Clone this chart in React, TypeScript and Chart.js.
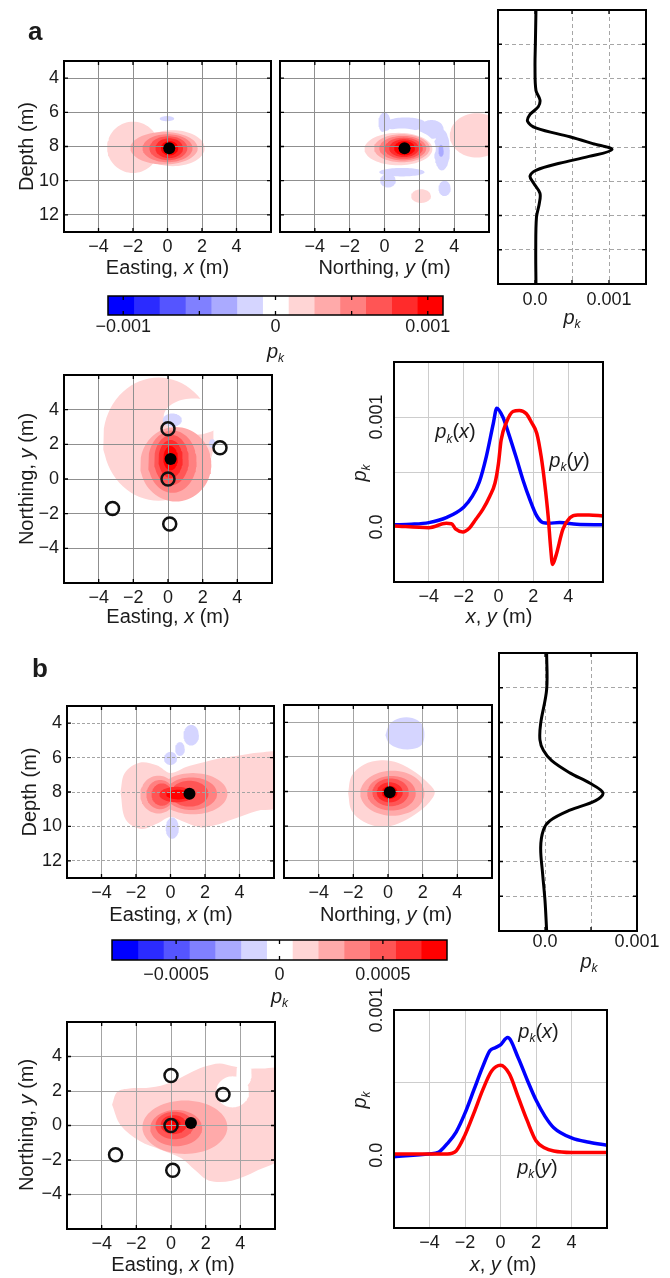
import React, { useEffect, useRef } from 'react';
import { Chart, registerables } from 'chart.js';

Chart.register(...registerables);

const FF = '"Liberation Sans", Arial, Helvetica, sans-serif';
const TXT = '#1b1b1b';

// ---------- discrete colour classes: blue ... white ... red (index = level + 6) ----------
const levelColors = ['#0000ff', '#2b2bff', '#5555ff', '#8080ff', '#aaaaff', '#d5d5ff', '#ffffff', '#ffd5d5', '#ffaaaa', '#ff8080', '#ff5555', '#ff2b2b', '#ff0000'];

// ---------- colour bars ----------
const cbEdgesA = [-0.0011, -0.000931, -0.000762, -0.000592, -0.000423, -0.000254, -0.0000846, 0.0000846, 0.000254, 0.000423, 0.000592, 0.000762, 0.000931, 0.0011];
const cbTicksA = [-0.001, -0.0005, 0, 0.0005, 0.001];
const cbLabelsA = ['−0.001', '', '0', '', '0.001'];
const cbEdgesB = [-0.00081, -0.000685, -0.000561, -0.000436, -0.000312, -0.000187, -0.0000623, 0.0000623, 0.000187, 0.000312, 0.000436, 0.000561, 0.000685, 0.00081];
const cbTicksB = [-0.0005, 0, 0.0005];
const cbLabelsB = ['−0.0005', '0', '0.0005'];

// ---------- axes ----------
const horizTicks = [-4, -2, 0, 2, 4];
const horizLabels = ['−4', '−2', '0', '2', '4'];
const depthTicks = [4, 6, 8, 10, 12];
const depthLabels = ['4', '6', '8', '10', '12'];
const northTicks = [-4, -2, 0, 2, 4];
const northLabels = ['−4', '−2', '0', '2', '4'];
const profDepthTicks = [2, 4, 6, 8, 10, 12, 14];
const pkTicks = [0, 0.0005, 0.001];
const pkLabels = ['0.0', '', '0.001'];
const lineYTicks = [0, 0.0005, 0.001];
const lineYLabelVals = [0, 0.001];
const lineYLabels = ['0.0', '0.001'];

// ---------- wells (open circles) and sources (black dots) ----------
const wellX = [0, 3, 0, -3.2, 0.1];
const wellY = [2.9, 1.8, 0, -1.7, -2.6];
const srcSecAE = [0.1, 8.1];
const srcSecAN = [1.15, 8.1];
const srcPlanA = [0.15, 1.15];
const srcSecBE = [1.1, 8.1];
const srcSecBN = [0.1, 8.05];
const srcPlanB = [1.15, 0.15];

// ---------- contour classes: level + ellipse [cx, cy, rx, ry] or polygon, in paint order ----------
type Shape = { lv: number; e?: number[]; p?: number[][] };

const secAEast: Shape[] = [
  { lv: 1, e: [-2.0, 8.05, 1.5, 1.5] },
  { lv: 1, e: [0.3, 8.1, 1.85, 1.05] },
  { lv: -1, e: [-0.03, 6.37, 0.42, 0.15] },
  { lv: 2, e: [-0.2, 8.1, 1.95, 0.95] },
  { lv: 3, e: [0.0, 8.1, 1.45, 0.82] },
  { lv: 4, e: [0.05, 8.1, 1.1, 0.7] },
  { lv: 5, e: [0.1, 8.1, 0.8, 0.58] },
  { lv: 6, e: [0.12, 8.1, 0.5, 0.42] },
];

const secANorth: Shape[] = [
  { lv: 1, e: [5.3, 7.35, 1.55, 1.3] },
  { lv: 1, e: [2.1, 10.9, 0.57, 0.4] },
  { lv: -1, e: [0.0, 6.6, 0.35, 0.6] },
  { lv: -1, e: [1.2, 6.7, 1.2, 0.4] },
  { lv: -1, e: [2.7, 7.0, 0.7, 0.55] },
  { lv: -1, e: [3.3, 8.2, 0.45, 1.2] },
  { lv: -1, e: [1.0, 9.5, 1.3, 0.25] },
  { lv: -1, e: [0.2, 10.0, 0.45, 0.4] },
  { lv: -1, e: [3.45, 10.45, 0.35, 0.45] },
  { lv: -2, e: [3.25, 8.25, 0.15, 0.35] },
  { lv: 0, e: [1.0, 8.1, 1.95, 1.15] },
  { lv: 1, e: [0.8, 8.15, 1.95, 0.95] },
  { lv: 2, e: [1.0, 8.1, 1.6, 0.82] },
  { lv: 3, e: [1.05, 8.1, 1.35, 0.72] },
  { lv: 4, e: [1.1, 8.1, 1.1, 0.62] },
  { lv: 5, e: [1.12, 8.1, 0.85, 0.52] },
  { lv: 6, e: [1.15, 8.1, 0.6, 0.42] },
];

const planA: Shape[] = [
  { lv: 1, e: [-0.55, 2.3, 3.2, 3.55] },
  { lv: 0, e: [1.5, 3.6, 1.75, 1.05] },
  { lv: 2, e: [0.45, 0.85, 2.05, 2.15] },
  { lv: 3, e: [0.25, 1.0, 1.4, 1.8] },
  { lv: 4, e: [0.2, 1.1, 1.0, 1.45] },
  { lv: 5, e: [0.15, 1.15, 0.7, 1.1] },
  { lv: 6, e: [0.15, 1.2, 0.42, 0.7] },
  { lv: -1, e: [0.25, 3.4, 0.55, 0.38] },
  { lv: -1, e: [2.55, 2.05, 0.2, 0.25] },
];

const secBEastOuter = [[-2.9, 8.0], [-2.65, 6.9], [-1.8, 6.3], [-0.8, 6.45], [0.0, 6.9], [0.9, 6.55], [1.8, 6.3], [2.8, 6.05], [3.8, 5.9], [5.2, 5.7], [6.3, 5.8], [6.3, 8.8], [5.0, 9.1], [3.7, 9.55], [2.5, 9.95], [1.7, 10.05], [0.7, 9.7], [0.0, 9.45], [-0.8, 9.85], [-1.7, 10.15], [-2.6, 9.6], [-2.9, 8.0]];
const secBEast: Shape[] = [
  { lv: 1, p: secBEastOuter },
  { lv: -1, e: [0.0, 6.05, 0.38, 0.38] },
  { lv: -1, e: [0.55, 5.5, 0.28, 0.4] },
  { lv: -1, e: [1.2, 4.7, 0.45, 0.6] },
  { lv: -1, e: [0.1, 10.1, 0.38, 0.62] },
  { lv: 2, e: [-0.7, 8.15, 1.05, 1.1] },
  { lv: 2, e: [1.3, 8.1, 2.0, 1.2] },
  { lv: 3, e: [-0.6, 8.15, 0.8, 0.85] },
  { lv: 3, e: [1.2, 8.1, 1.5, 0.95] },
  { lv: 4, e: [-0.5, 8.15, 0.6, 0.65] },
  { lv: 4, e: [1.1, 8.1, 1.1, 0.75] },
  { lv: 5, e: [0.35, 8.15, 1.0, 0.45] },
  { lv: 6, e: [0.45, 8.15, 0.7, 0.28] },
];

const secBNorthOuter = [[-2.3, 8.1], [-2.1, 7.1], [-1.4, 6.45], [-0.4, 6.2], [0.6, 6.35], [1.6, 6.9], [2.4, 7.6], [2.7, 8.05], [2.4, 8.6], [1.6, 9.3], [0.6, 9.85], [-0.4, 10.05], [-1.4, 9.75], [-2.1, 9.1], [-2.3, 8.1]];
const secBNorthBlue = [[-0.15, 4.75], [0.1, 4.1], [0.7, 3.75], [1.4, 3.75], [1.95, 4.1], [2.1, 4.7], [1.95, 5.3], [1.4, 5.55], [0.6, 5.5], [0.05, 5.2], [-0.15, 4.75]];
const secBNorth: Shape[] = [
  { lv: 1, p: secBNorthOuter },
  { lv: -1, p: secBNorthBlue },
  { lv: 2, e: [0.25, 8.1, 1.85, 1.3] },
  { lv: 3, e: [0.2, 8.1, 1.4, 1.0] },
  { lv: 4, e: [0.15, 8.05, 1.05, 0.8] },
  { lv: 5, e: [0.1, 8.05, 0.75, 0.58] },
  { lv: 6, e: [0.1, 8.05, 0.45, 0.38] },
];

const planBOuter = [[-3.4, 1.2], [-3.1, 1.95], [-2.4, 2.15], [-1.2, 2.2], [0.0, 2.5], [1.0, 3.0], [1.9, 3.4], [2.8, 3.6], [3.5, 3.45], [4.4, 3.3], [5.2, 3.3], [6.3, 3.2], [6.3, -1.8], [5.0, -2.6], [3.5, -3.2], [2.2, -3.2], [1.4, -2.6], [0.6, -1.9], [-0.6, -1.4], [-1.8, -0.9], [-2.9, 0.0], [-3.4, 1.2]];
const planB: Shape[] = [
  { lv: 1, p: planBOuter },
  { lv: 0, e: [3.55, 1.95, 0.95, 0.9] },
  { lv: 0, e: [4.2, 3.0, 0.45, 0.75] },
  { lv: 2, e: [0.8, -0.1, 2.45, 1.55] },
  { lv: 3, e: [0.3, -0.15, 1.5, 1.05] },
  { lv: 4, e: [0.2, 0.0, 1.1, 0.8] },
  { lv: 5, e: [0.15, 0.05, 0.75, 0.55] },
  { lv: 6, e: [0.1, 0.08, 0.45, 0.35] },
];

// ---------- vertical profiles p_k(depth) ----------
const profDepthA = [0, 2, 3.3, 4.7, 5.25, 5.65, 6.1, 6.5, 6.9, 7.4, 7.8, 8.15, 8.55, 8.95, 9.35, 9.7, 10.1, 10.7, 11.3, 12.1, 14, 16];
const profPkA = [0.000013, 0.000005, 0, 0.000013, 0.000067, 0.000044, -0.000067, -0.0001, 0.00002, 0.00047, 0.00078, 0.00104, 0.00073, 0.00033, 0.00002, -0.000067, -0.00002, 0.000067, 0.000058, 0.00002, 0.00001, 0.000013];
const profDepthB = [0, 2.1, 4.05, 5.0, 5.6, 6.2, 6.9, 7.5, 8.05, 8.5, 9.05, 9.65, 10.2, 11.2, 12.7, 14.25, 16];
const profPkB = [0.000018, 0.000018, -0.000047, -0.000055, -0.000018, 0.000073, 0.00027, 0.00049, 0.00063, 0.00055, 0.00027, 0.000055, -0.000018, -0.000047, -0.000026, 0, 0.000018];

// ---------- horizontal profiles ----------
const pkxAx = [-6, -5, -4, -3, -2, -1.5, -1.1, -0.7, -0.3, -0.1, 0.25, 0.6, 1.0, 1.4, 1.8, 2.2, 2.55, 2.9, 3.5, 4.5, 6];
const pkxAy = [0.00002, 0.000025, 0.00004, 0.000085, 0.00018, 0.00028, 0.00041, 0.00064, 0.00094, 0.00108, 0.001, 0.00084, 0.00064, 0.00043, 0.00025, 0.0001, 0.00004, 0.000035, 0.00004, 0.000025, 0.00002];
const pkyAx = [-6, -4, -3, -2.7, -2.45, -2.05, -1.65, -1.3, -0.9, -0.5, -0.2, 0, 0.15, 0.45, 0.83, 1.2, 1.6, 1.9, 2.2, 2.45, 2.65, 2.85, 3.0, 3.1, 3.3, 3.7, 4.1, 4.55, 5.2, 6];
const pkyAy = [0.00001, -0.000006, 0.000033, 0.00003, -0.00002, -0.000045, -0.000006, 0.00007, 0.00016, 0.00028, 0.0004, 0.00058, 0.00079, 0.00095, 0.00105, 0.00106, 0.00103, 0.00095, 0.00085, 0.00064, 0.0004, 0.0001, -0.0002, -0.00034, -0.00026, -0.00002, 0.000084, 0.00011, 0.00011, 0.0001];
const pkxBx = [-6, -4, -3.5, -3, -2.5, -2, -1.5, -1, -0.6, -0.3, 0, 0.4, 1, 1.5, 2, 2.5, 3, 4, 5, 6];
const pkxBy = [-0.00001, 0.00001, 0.00002, 0.00008, 0.00016, 0.00029, 0.00045, 0.00061, 0.00072, 0.00074, 0.00076, 0.00081, 0.00067, 0.00052, 0.00038, 0.00027, 0.00019, 0.00012, 0.00009, 0.00007];
const pkyBx = [-6, -4, -3, -2.5, -2, -1.5, -1, -0.5, 0, 0.5, 1, 1.5, 2, 2.5, 3, 4, 6];
const pkyBy = [0.00001, 0.00001, 0.00001, 0.00003, 0.00014, 0.00029, 0.00045, 0.00058, 0.00062, 0.00056, 0.0004, 0.00024, 0.0001, 0.00005, 0.00003, 0.00002, 0.00002];

// ---------- text helpers ----------
type Part = { t: string; i?: boolean; s?: boolean };
const PK: Part[] = [{ t: 'p', i: true }, { t: 'k', i: true, s: true }];
const EASTING: Part[] = [{ t: 'Easting, ' }, { t: 'x', i: true }, { t: ' (m)' }];
const NORTHING: Part[] = [{ t: 'Northing, ' }, { t: 'y', i: true }, { t: ' (m)' }];
const DEPTH: Part[] = [{ t: 'Depth (m)' }];
const XY: Part[] = [{ t: 'x', i: true }, { t: ', ' }, { t: 'y', i: true }, { t: ' (m)' }];
const PKX: Part[] = [...PK, { t: '(' }, { t: 'x', i: true }, { t: ')' }];
const PKY: Part[] = [...PK, { t: '(' }, { t: 'y', i: true }, { t: ')' }];

function rich(ctx: any, parts: Part[], x: number, y: number, size: number, o: any = {}) {
  ctx.save();
  ctx.translate(x, y);
  if (o.rot) ctx.rotate(o.rot);
  ctx.fillStyle = TXT;
  ctx.textBaseline = o.base || 'middle';
  ctx.textAlign = 'left';
  const font = (p: Part) => `${p.i ? 'italic ' : ''}${o.bold ? 'bold ' : ''}${p.s ? Math.round(size * 0.62) : size}px ${FF}`;
  const ws = parts.map((p) => { ctx.font = font(p); return ctx.measureText(p.t).width; });
  const total = ws.reduce((a, b) => a + b, 0);
  let cx = o.align === 'left' ? 0 : o.align === 'right' ? -total : -total / 2;
  parts.forEach((p, k) => { ctx.font = font(p); ctx.fillText(p.t, cx, p.s ? size * 0.32 : 0); cx += ws[k]; });
  ctx.restore();
}

const zip = (xs: number[], ys: number[]) => xs.map((x, i) => ({ x, y: ys[i] }));
const ell = (cx: number, cy: number, rx: number, ry: number) => {
  const pts = [];
  for (let k = 0; k <= 72; k++) {
    const t = (k / 72) * Math.PI * 2;
    pts.push({ x: cx + rx * Math.cos(t), y: cy + ry * Math.sin(t) });
  }
  return pts;
};

// ---------- chart helpers ----------
type M = { l: number; t: number; r: number; b: number };

function baseOpts(m: M) {
  return {
    responsive: false,
    maintainAspectRatio: false,
    animation: false,
    events: [],
    layout: { padding: { left: 0, top: m.t, right: m.r, bottom: 0 } },
    plugins: { legend: { display: false }, tooltip: { enabled: false }, title: { display: false }, filler: { drawTime: 'beforeDraw', propagate: false } },
  };
}

function axis(o: any) {
  return {
    type: 'linear',
    bounds: 'data',
    min: o.min,
    max: o.max,
    reverse: !!o.reverse,
    afterBuildTicks: (s: any) => { s.ticks = o.ticks.map((v: number) => ({ value: v })); },
    afterFit: (s: any) => { if (o.horiz) s.height = o.fit; else s.width = o.fit; },
    grid: { display: !!o.grid, color: o.grid || 'rgba(0,0,0,0)', lineWidth: 1, drawTicks: false },
    border: { display: false, dash: o.dash || [] },
    ticks: {
      display: !!o.labels, autoSkip: false, maxRotation: 0, minRotation: 0, padding: o.pad ?? 4, color: TXT,
      font: { family: FF, size: 18 },
      callback: (_v: any, i: number) => (o.labels ? (o.labels[i] ?? '') : ''),
    },
  };
}

function framePlugin(lw: number, tick: number) {
  return {
    id: 'frame',
    afterDraw(chart: any) {
      const { ctx, chartArea: a, scales } = chart;
      ctx.save();
      ctx.strokeStyle = '#000';
      if (tick > 0) {
        ctx.lineWidth = 1.3;
        ctx.beginPath();
        const sx = scales.x, sy = scales.y;
        if (sx && sx.type === 'linear') for (const t of sx.ticks) {
          const p = sx.getPixelForValue(t.value);
          if (p < a.left + 2 || p > a.right - 2) continue;
          ctx.moveTo(p, a.top); ctx.lineTo(p, a.top + tick); ctx.moveTo(p, a.bottom); ctx.lineTo(p, a.bottom - tick);
        }
        if (sy && sy.type === 'linear') for (const t of sy.ticks) {
          const p = sy.getPixelForValue(t.value);
          if (p < a.top + 2 || p > a.bottom - 2) continue;
          ctx.moveTo(a.left, p); ctx.lineTo(a.left + tick, p); ctx.moveTo(a.right, p); ctx.lineTo(a.right - tick, p);
        }
        ctx.stroke();
      }
      ctx.lineWidth = lw;
      ctx.strokeRect(a.left, a.top, a.right - a.left, a.bottom - a.top);
      ctx.restore();
    },
  };
}

function textPlugin(fn: (chart: any) => void) {
  return { id: 'texts', afterDraw(chart: any) { fn(chart); } };
}

function mapDatasets(shapes: Shape[], src: number[], wells: boolean) {
  const fills = shapes.map((s) => ({
    type: 'line',
    data: s.e ? ell(s.e[0], s.e[1], s.e[2], s.e[3]) : (s.p as number[][]).map((q) => ({ x: q[0], y: q[1] })),
    backgroundColor: levelColors[s.lv + 6],
    borderColor: 'rgba(0,0,0,0)',
    borderWidth: 1,
    pointRadius: 0,
    fill: 'shape',
    tension: s.p ? 0.35 : 0,
  })).reverse();
  const marks: any[] = [
    { type: 'line', data: [{ x: src[0], y: src[1] }], showLine: false, pointRadius: 6, pointBorderWidth: 0, pointBackgroundColor: '#000', pointBorderColor: '#000', fill: false },
  ];
  if (wells) marks.push({ type: 'line', data: zip(wellX, wellY), showLine: false, pointRadius: 6.5, pointBorderWidth: 2.5, pointBorderColor: '#111', pointBackgroundColor: 'rgba(0,0,0,0)', fill: false });
  return [...marks, ...fills];
}

function mapChart(o: any) {
  return (ox: number, oy: number) => ({
    type: 'line',
    data: { datasets: mapDatasets(o.shapes, o.src, !!o.wells) },
    options: {
      ...baseOpts(o.m),
      scales: {
        x: axis({ min: -6, max: 6, ticks: horizTicks, labels: horizLabels, fit: o.m.b, horiz: true, grid: o.grid, pad: 4 }),
        y: axis({ min: o.yMin, max: o.yMax, reverse: o.reverse, ticks: o.yTicks, labels: o.yLabels, fit: o.m.l, horiz: false, grid: o.grid, dash: o.ydash, pad: 5 }),
      },
    },
    plugins: [framePlugin(2, 4), textPlugin((chart) => o.texts(chart.ctx, ox, oy))],
  });
}

function profileChart(o: any) {
  return (ox: number, oy: number) => ({
    type: 'line',
    data: { datasets: [{ data: zip(o.pk, o.depth), borderColor: '#000', borderWidth: 3, pointRadius: 0, fill: false, tension: 0.35 }] },
    options: {
      ...baseOpts(o.m),
      scales: {
        x: axis({ min: o.xMin, max: o.xMax, ticks: pkTicks, labels: pkLabels, fit: o.m.b, horiz: true, grid: '#a6a6a6', dash: [4, 3], pad: o.pad }),
        y: axis({ min: 0, max: 16, reverse: true, ticks: profDepthTicks, fit: o.m.l, horiz: false, grid: '#a6a6a6', dash: [4, 3] }),
      },
    },
    plugins: [framePlugin(2, 4), textPlugin((chart) => rich(chart.ctx, PK, o.pkAt[0] - ox, o.pkAt[1] - oy, 20))],
  });
}

function cbChart(o: any) {
  const edges: number[] = o.edges;
  return (ox: number, oy: number) => ({
    type: 'bar',
    data: {
      labels: [''],
      datasets: edges.slice(0, -1).map((e, i) => ({ data: [[e, edges[i + 1]]], backgroundColor: levelColors[i], borderWidth: 0, barPercentage: 1, categoryPercentage: 1, grouped: false })),
    },
    options: {
      ...baseOpts(o.m),
      indexAxis: 'y',
      scales: {
        x: axis({ min: edges[0], max: edges[edges.length - 1], ticks: o.ticks, labels: o.labels, fit: o.m.b, horiz: true, pad: o.pad }),
        y: { type: 'category', display: true, grid: { display: false, drawTicks: false }, border: { display: false }, ticks: { display: false }, afterFit: (s: any) => { s.width = o.m.l; } },
      },
    },
    plugins: [framePlugin(1.5, 4), textPlugin((chart) => rich(chart.ctx, PK, o.pkAt[0] - ox, o.pkAt[1] - oy, 20))],
  });
}

function lineChart(o: any) {
  return (ox: number, oy: number) => ({
    type: 'line',
    data: {
      datasets: [
        { data: o.red, borderColor: '#ff0000', borderWidth: 3.5, pointRadius: 0, fill: false, cubicInterpolationMode: 'monotone' },
        { data: o.blue, borderColor: '#0000ff', borderWidth: 3.5, pointRadius: 0, fill: false, cubicInterpolationMode: 'monotone' },
      ],
    },
    options: {
      ...baseOpts(o.m),
      scales: {
        x: axis({ min: -6, max: 6, ticks: horizTicks, labels: horizLabels, fit: o.m.b, horiz: true, grid: '#cdcdcd', pad: 4 }),
        y: axis({ min: -0.0005, max: o.yMax, ticks: lineYTicks, fit: o.m.l, horiz: false, grid: '#cdcdcd' }),
      },
    },
    plugins: [
      framePlugin(2, 0),
      textPlugin((chart) => {
        const { ctx, chartArea: a, scales } = chart;
        lineYLabelVals.forEach((v, i) => rich(ctx, [{ t: lineYLabels[i] }], a.left - 17, scales.y.getPixelForValue(v), 18, { rot: -Math.PI / 2 }));
        rich(ctx, PK, o.pkAt[0] - ox, o.pkAt[1] - oy, 20, { rot: -Math.PI / 2 });
        rich(ctx, XY, o.xyAt[0] - ox, o.xyAt[1] - oy, 20);
        rich(ctx, PKX, scales.x.getPixelForValue(o.lx[0]), scales.y.getPixelForValue(o.lx[1]), 20);
        rich(ctx, PKY, scales.x.getPixelForValue(o.ly[0]), scales.y.getPixelForValue(o.ly[1]), 20);
      }),
    ],
  });
}

// ---------- canvas holder ----------
type Box = { l: number; t: number; r: number; b: number };

function Panel({ box, m, make }: { box: Box; m: M; make: (ox: number, oy: number) => any }) {
  const ref = useRef<HTMLCanvasElement | null>(null);
  const ox = box.l - m.l;
  const oy = box.t - m.t;
  const w = box.r - box.l + m.l + m.r;
  const h = box.b - box.t + m.t + m.b;
  useEffect(() => {
    const chart = new Chart(ref.current as HTMLCanvasElement, make(ox, oy));
    return () => chart.destroy();
  }, []);
  return <canvas ref={ref} width={w} height={h} style={{ position: 'absolute', left: ox, top: oy, width: w, height: h }} />;
}

const GRID_A = '#8f8f8f';
const GRID_B = '#a4a4a4';

const panels: { box: Box; m: M; make: any }[] = [
  // ---------------- panel a ----------------
  {
    box: { l: 64, t: 61, r: 271, b: 232 }, m: { l: 70, t: 45, r: 12, b: 50 },
    make: mapChart({
      shapes: secAEast, src: srcSecAE, grid: GRID_A, yMin: 3, yMax: 13, reverse: true, yTicks: depthTicks, yLabels: depthLabels, m: { l: 70, t: 45, r: 12, b: 50 },
      texts: (ctx: any, ox: number, oy: number) => {
        rich(ctx, [{ t: 'a' }], 28 - ox, 40 - oy, 26, { bold: true, align: 'left', base: 'alphabetic' });
        rich(ctx, EASTING, 167.5 - ox, 268 - oy, 20);
        rich(ctx, DEPTH, 27 - ox, 146.5 - oy, 20, { rot: -Math.PI / 2 });
      },
    }),
  },
  {
    box: { l: 280, t: 61, r: 489, b: 232 }, m: { l: 10, t: 30, r: 12, b: 50 },
    make: mapChart({
      shapes: secANorth, src: srcSecAN, grid: GRID_A, yMin: 3, yMax: 13, reverse: true, yTicks: depthTicks, m: { l: 10, t: 30, r: 12, b: 50 },
      texts: (ctx: any, ox: number, oy: number) => rich(ctx, NORTHING, 384.5 - ox, 268 - oy, 20),
    }),
  },
  {
    box: { l: 498, t: 10, r: 646, b: 284 }, m: { l: 10, t: 10, r: 30, b: 50 },
    make: profileChart({ pk: profPkA, depth: profDepthA, xMin: -0.0005, xMax: 0.0015, pad: 5, pkAt: [572, 318], m: { l: 10, t: 10, r: 30, b: 50 } }),
  },
  {
    box: { l: 108, t: 296, r: 443, b: 315 }, m: { l: 40, t: 10, r: 40, b: 50 },
    make: cbChart({ edges: cbEdgesA, ticks: cbTicksA, labels: cbLabelsA, pad: 1, pkAt: [275.5, 352], m: { l: 40, t: 10, r: 40, b: 50 } }),
  },
  {
    box: { l: 64, t: 375, r: 272, b: 583 }, m: { l: 70, t: 30, r: 12, b: 50 },
    make: mapChart({
      shapes: planA, src: srcPlanA, wells: true, grid: GRID_A, yMin: -6, yMax: 6, yTicks: northTicks, yLabels: northLabels, m: { l: 70, t: 30, r: 12, b: 50 },
      texts: (ctx: any, ox: number, oy: number) => {
        rich(ctx, EASTING, 168 - ox, 617 - oy, 20);
        rich(ctx, NORTHING, 27 - ox, 479 - oy, 20, { rot: -Math.PI / 2 });
      },
    }),
  },
  {
    box: { l: 394, t: 362, r: 603, b: 582 }, m: { l: 45, t: 30, r: 12, b: 50 },
    make: lineChart({ blue: zip(pkxAx, pkxAy), red: zip(pkyAx, pkyAy), yMax: 0.0015, pkAt: [360, 473], xyAt: [499, 617], lx: [-2.47, 0.000856], ly: [4.08, 0.000595], m: { l: 45, t: 30, r: 12, b: 50 } }),
  },
  // ---------------- panel b ----------------
  {
    box: { l: 67, t: 706, r: 274, b: 878 }, m: { l: 70, t: 55, r: 12, b: 50 },
    make: mapChart({
      shapes: secBEast, src: srcSecBE, grid: GRID_B, ydash: [3, 2], yMin: 3, yMax: 13, reverse: true, yTicks: depthTicks, yLabels: depthLabels, m: { l: 70, t: 55, r: 12, b: 50 },
      texts: (ctx: any, ox: number, oy: number) => {
        rich(ctx, [{ t: 'b' }], 32 - ox, 677 - oy, 26, { bold: true, align: 'left', base: 'alphabetic' });
        rich(ctx, EASTING, 171 - ox, 915 - oy, 20);
        rich(ctx, DEPTH, 30 - ox, 792 - oy, 20, { rot: -Math.PI / 2 });
      },
    }),
  },
  {
    box: { l: 284, t: 705, r: 492, b: 878 }, m: { l: 10, t: 30, r: 12, b: 50 },
    make: mapChart({
      shapes: secBNorth, src: srcSecBN, grid: GRID_B, yMin: 3, yMax: 13, reverse: true, yTicks: depthTicks, m: { l: 10, t: 30, r: 12, b: 50 },
      texts: (ctx: any, ox: number, oy: number) => rich(ctx, NORTHING, 386 - ox, 915 - oy, 20),
    }),
  },
  {
    box: { l: 499, t: 653, r: 637, b: 931 }, m: { l: 10, t: 10, r: 40, b: 50 },
    make: profileChart({ pk: profPkB, depth: profDepthB, xMin: -0.0005, xMax: 0.001, pad: 0, pkAt: [589, 962], m: { l: 10, t: 10, r: 40, b: 50 } }),
  },
  {
    box: { l: 112, t: 940, r: 447, b: 960 }, m: { l: 40, t: 10, r: 40, b: 50 },
    make: cbChart({ edges: cbEdgesB, ticks: cbTicksB, labels: cbLabelsB, pad: 4, pkAt: [279.5, 997], m: { l: 40, t: 10, r: 40, b: 50 } }),
  },
  {
    box: { l: 67, t: 1022, r: 275, b: 1229 }, m: { l: 70, t: 30, r: 12, b: 50 },
    make: mapChart({
      shapes: planB, src: srcPlanB, wells: true, grid: GRID_B, yMin: -6, yMax: 6, yTicks: northTicks, yLabels: northLabels, m: { l: 70, t: 30, r: 12, b: 50 },
      texts: (ctx: any, ox: number, oy: number) => {
        rich(ctx, EASTING, 173 - ox, 1265 - oy, 20);
        rich(ctx, NORTHING, 27 - ox, 1125 - oy, 20, { rot: -Math.PI / 2 });
      },
    }),
  },
  {
    box: { l: 394, t: 1010, r: 607, b: 1228 }, m: { l: 45, t: 30, r: 12, b: 50 },
    make: lineChart({ blue: zip(pkxBx, pkxBy), red: zip(pkyBx, pkyBy), yMax: 0.001, pkAt: [360, 1100], xyAt: [503, 1265], lx: [2.14, 0.000847], ly: [2.08, -0.00009], m: { l: 45, t: 30, r: 12, b: 50 } }),
  },
];

export default function App() {
  return (
    <div style={{ position: 'absolute', left: 0, top: 0, width: 670, height: 1278, overflow: 'hidden', background: '#ffffff' }}>
      {panels.map((p, i) => <Panel key={i} box={p.box} m={p.m} make={p.make} />)}
    </div>
  );
}
